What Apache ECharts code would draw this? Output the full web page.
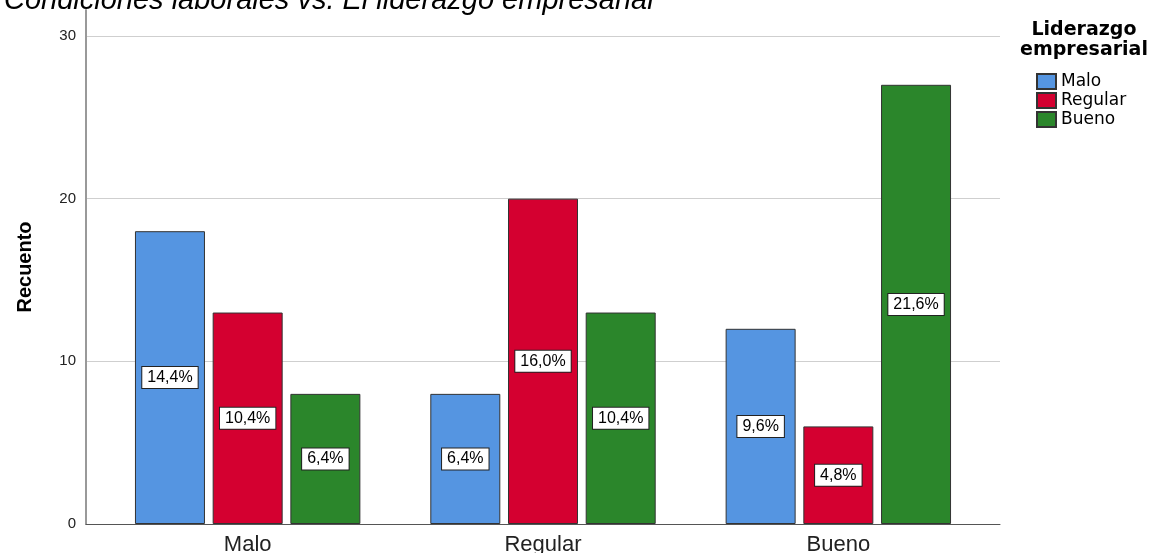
<!DOCTYPE html>
<html>
<head>
<meta charset="utf-8">
<script src="https://cdn.jsdelivr.net/npm/echarts@6/dist/echarts.min.js"></script>
<style>
  html, body { margin: 0; padding: 0; background: #fff; }
  #chart { width: 1158px; height: 553px; }
</style>
</head>
<body>
<div id="chart"></div>
<script>
const categories = ['Malo', 'Regular', 'Bueno']
const seriesNames = ['Malo', 'Regular', 'Bueno']
const malo = [18, 8, 12]
const regular = [13, 20, 6]
const bueno = [8, 13, 27]
const total = 125
const colors = ['#5595e1', '#d40030', '#2b862b']

const font = 'Arial, "Liberation Sans", sans-serif'
const wideFont = '"DejaVu Sans", sans-serif'

const mkSeries = (name, data, color) => ({
  name,
  type: 'bar',
  xAxisIndex: 2,
  yAxisIndex: 2,
  data,
  barWidth: 70,
  barGap: '11%',
  itemStyle: { color, borderColor: '#333', borderWidth: 1 },
  label: {
    show: true,
    position: 'inside',
    formatter: (p) => (p.value / total * 100).toFixed(1).replace('.', ',') + '%',
    color: '#000',
    fontFamily: font,
    fontSize: 16,
    backgroundColor: '#fff',
    borderColor: '#222',
    borderWidth: 1,
    padding: [3, 5, 2, 5]
  }
})

const chart = echarts.init(document.getElementById('chart'))
chart.setOption({
  animation: false,
  title: [
    {
      text: 'Condiciones laborales vs. El liderazgo empresarial',
      left: 4,
      top: -14,
      padding: 0,
      textStyle: { fontFamily: font, fontStyle: 'italic', fontWeight: 'normal', fontSize: 29, color: '#000' }
    },
    {
      text: 'Liderazgo\nempresarial',
      left: 1084,
      top: 20,
      padding: 0,
      textAlign: 'center',
      textStyle: { fontFamily: wideFont, fontWeight: 'bold', fontSize: 19, lineHeight: 20, color: '#000' }
    }
  ],
  legend: {
    orient: 'vertical',
    left: 1031,
    top: 68,
    itemWidth: 19,
    itemHeight: 15,
    itemGap: 2,
    icon: 'rect',
    data: seriesNames,
    textStyle: { fontFamily: wideFont, fontSize: 17, color: '#000' }
  },
  grid: [
    { left: 86, width: 914, top: 10, height: 514, containLabel: false, outerBoundsMode: 'none' },
    { left: 86, width: 914, top: 36, height: 488, containLabel: false, outerBoundsMode: 'none' },
    { left: 100, width: 886, top: 36, height: 488, containLabel: false, outerBoundsMode: 'none' }
  ],
  xAxis: [
    { gridIndex: 0, type: 'value', show: false },
    {
      gridIndex: 1, type: 'value', min: 0, max: 1,
      axisLine: { show: true, lineStyle: { color: '#555' } },
      axisTick: { show: false }, axisLabel: { show: false }, splitLine: { show: false }
    },
    {
      gridIndex: 2, type: 'category', data: categories,
      axisLine: { show: false }, axisTick: { show: false },
      axisLabel: { fontFamily: font, fontSize: 22, color: '#222', margin: 10 }
    }
  ],
  yAxis: [
    {
      gridIndex: 0, type: 'value', min: 0, max: 31.6,
      name: 'Recuento', nameLocation: 'middle', nameGap: 51,
      nameTextStyle: { fontFamily: font, fontWeight: 'bold', fontSize: 20, color: '#000' },
      axisLine: { show: true, lineStyle: { color: '#999', width: 2 } },
      axisTick: { show: false }, axisLabel: { show: false }, splitLine: { show: false }
    },
    {
      gridIndex: 1, type: 'value', min: 0, max: 30, interval: 10,
      axisLine: { show: false }, axisTick: { show: false },
      axisLabel: { fontFamily: font, fontSize: 15, color: '#222', margin: 10 },
      splitLine: { lineStyle: { color: '#cfcfcf' } }
    },
    { gridIndex: 2, type: 'value', min: 0, max: 30, show: false }
  ],
  series: [
    mkSeries(seriesNames[0], malo, colors[0]),
    mkSeries(seriesNames[1], regular, colors[1]),
    mkSeries(seriesNames[2], bueno, colors[2])
  ]
})
</script>
</body>
</html>
